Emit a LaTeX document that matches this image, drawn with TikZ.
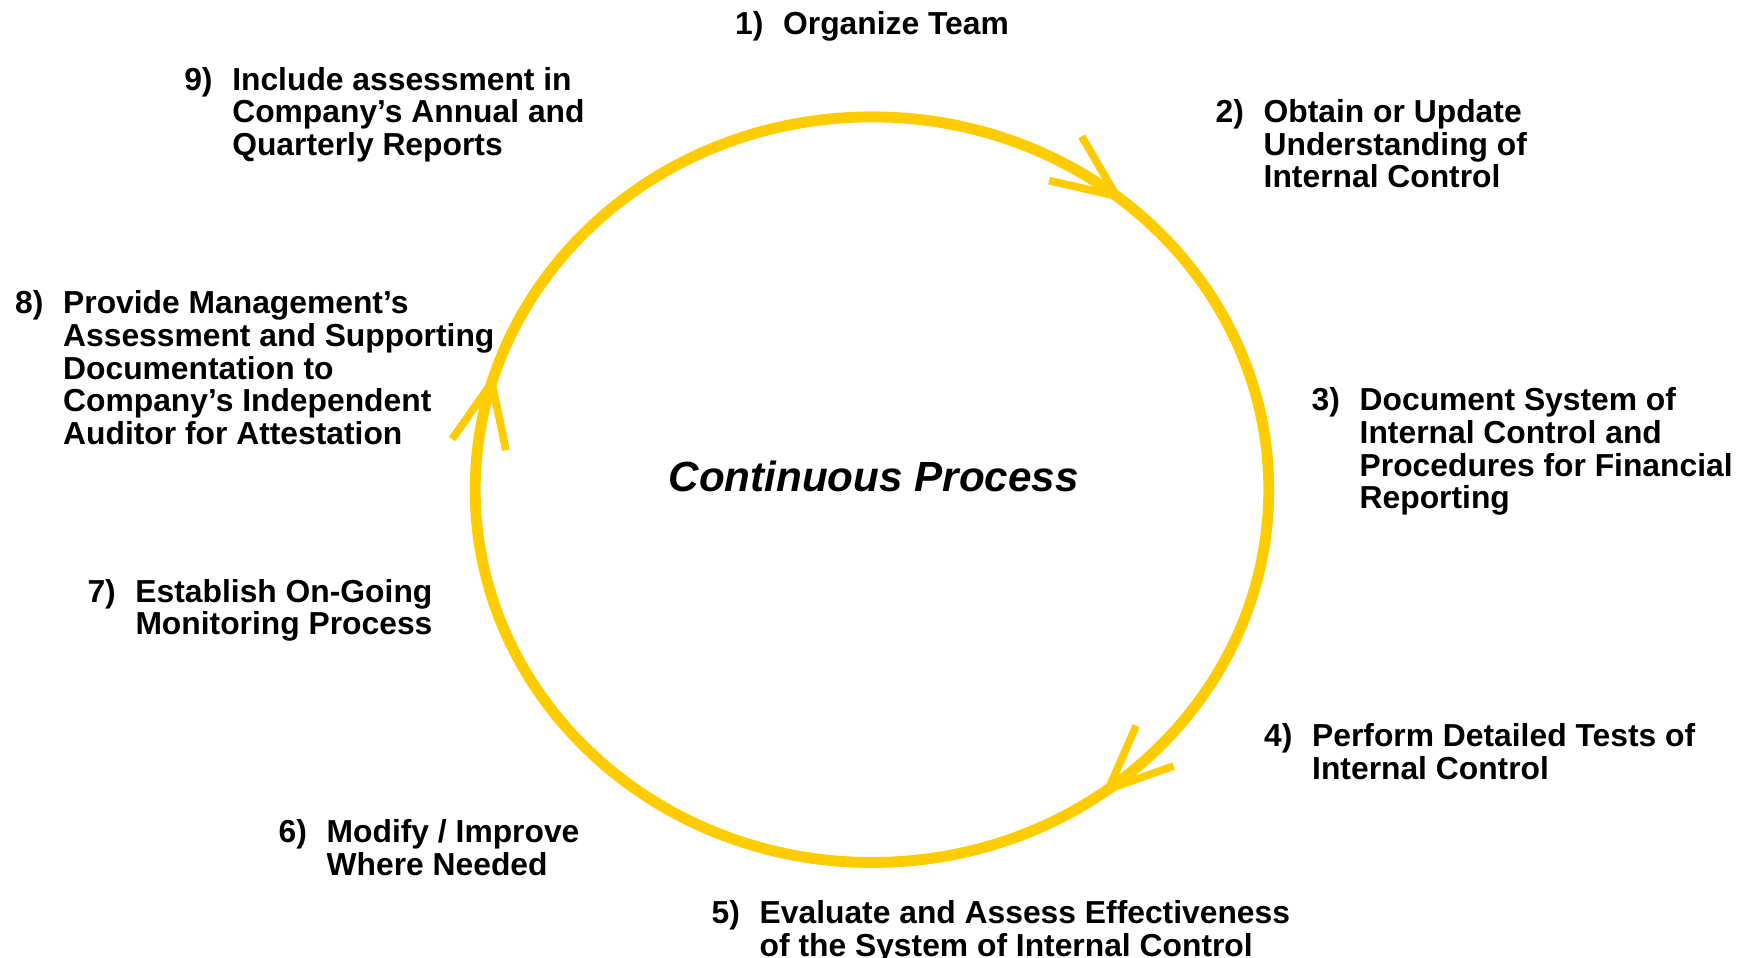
\documentclass[tikz,border=0pt]{standalone}
\usepackage{fontspec}
\setmainfont{Liberation Sans}
\usepackage{tikz}
\usetikzlibrary{decorations.markings}

\definecolor{ringgold}{HTML}{FFCC00}

% number in a fixed column, wrapped text beside it
\newcommand{\stagetext}[2]{%
  \begin{tabular}[t]{@{}p{4.8mm}@{}l@{}}#1 & \begin{tabular}[t]{@{}l@{}}#2\end{tabular}\end{tabular}}

\begin{document}
\begin{tikzpicture}[
  stage/.style={anchor=base west, inner sep=0pt, font=\bfseries\fontsize{9.05}{9.15}\selectfont},
  barb/.style={draw=ringgold, line width=2.2pt},
  ring/.style={draw=ringgold, line width=3.1pt,
    postaction={decorate, decoration={markings,
      mark=at position 0.108 with {\draw[barb] (-0.633,0.275) -- (0,0) -- (-0.633,-0.275);},
      mark=at position 0.396 with {\draw[barb, rotate=8] (-0.633,0.275) -- (0,0) -- (-0.633,-0.275);},
      mark=at position 0.795 with {\draw[barb, rotate=6] (-0.633,0.275) -- (0,0) -- (-0.633,-0.275);}}}},
]
\useasboundingbox (0,0) rectangle (17.45,9.58);

\coordinate (c) at (8.72,4.683);
\path[ring] (c) ++(0,3.728) arc[start angle=90, end angle=-270, x radius=3.968, y radius=3.728];

\node[anchor=base, inner sep=0pt, font=\bfseries\itshape\fontsize{12}{14}\selectfont] (cp) at (8.736,4.66) {Continuous Process};

\node[stage] (s1) at (7.345,9.234) {\stagetext{1)}{Organize Team}};
\node[stage] (s2) at (12.15,8.355) {\stagetext{2)}{Obtain or Update\\Understanding of\\Internal Control}};
\node[stage] (s3) at (13.11,5.473) {\stagetext{3)}{Document System of\\Internal Control and\\Procedures for Financial\\Reporting}};
\node[stage] (s4) at (12.635,2.112) {\stagetext{4)}{Perform Detailed Tests of\\Internal Control}};
\node[stage] (s5) at (7.11,0.342) {\stagetext{5)}{Evaluate and Assess Effectiveness\\of the System of Internal Control}};
\node[stage] (s6) at (2.78,1.154) {\stagetext{6)}{Modify / Improve\\Where Needed}};
\node[stage] (s7) at (0.868,3.558) {\stagetext{7)}{Establish On-Going\\Monitoring Process}};
\node[stage] (s8) at (0.145,6.441) {\stagetext{8)}{Provide Management’s\\Assessment and Supporting\\Documentation to\\Company’s Independent\\Auditor for Attestation}};
\node[stage] (s9) at (1.836,8.678) {\stagetext{9)}{Include assessment in\\Company’s Annual and\\Quarterly Reports}};
\end{tikzpicture}
\end{document}
